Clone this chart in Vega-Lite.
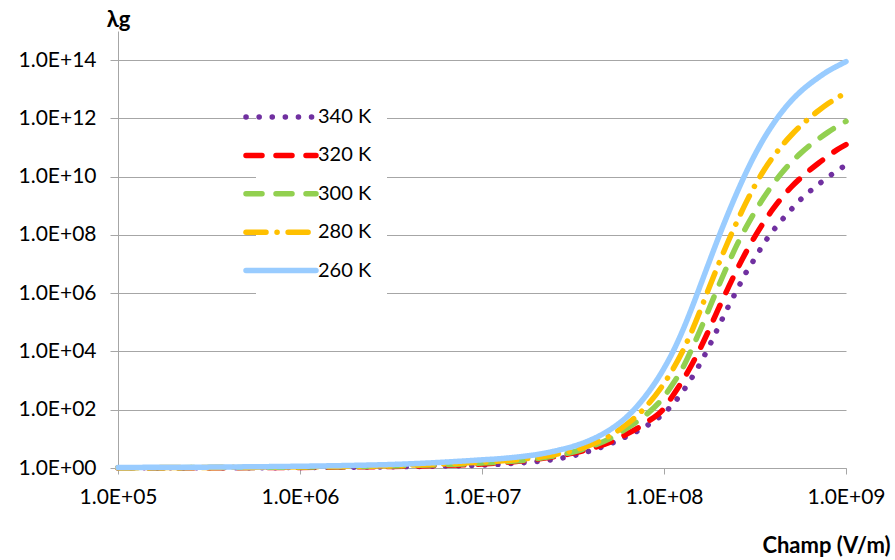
{
  "$schema": "https://vega.github.io/schema/vega-lite/v6.json",
  "width": 728,
  "height": 437,
  "autosize": "none",
  "padding": {"left": 118, "top": 31, "right": 49, "bottom": 92},
  "background": "white",
  "config": {"view": {"stroke": null}, "font": "Lato"},
  "data": {
    "values": [
      {"E": 1e5, "340 K": 1.009, "320 K": 1.012, "300 K": 1.023, "280 K": 1.023, "260 K": 1.047},
      {"E": 3.162e5, "340 K": 1.019, "320 K": 1.023, "300 K": 1.035, "280 K": 1.047, "260 K": 1.072},
      {"E": 1e6, "340 K": 1.035, "320 K": 1.047, "300 K": 1.072, "280 K": 1.096, "260 K": 1.148},
      {"E": 1.995e6, "340 K": 1.072, "320 K": 1.096, "300 K": 1.122, "280 K": 1.148, "260 K": 1.23},
      {"E": 3.162e6, "340 K": 1.096, "320 K": 1.122, "300 K": 1.175, "280 K": 1.202, "260 K": 1.318},
      {"E": 5.012e6, "340 K": 1.148, "320 K": 1.202, "300 K": 1.259, "280 K": 1.318, "260 K": 1.479},
      {"E": 7.943e6, "340 K": 1.202, "320 K": 1.288, "300 K": 1.38, "280 K": 1.479, "260 K": 1.738},
      {"E": 1e7, "340 K": 1.259, "320 K": 1.38, "300 K": 1.479, "280 K": 1.585, "260 K": 1.905},
      {"E": 1.259e7, "340 K": 1.349, "320 K": 1.514, "300 K": 1.585, "280 K": 1.738, "260 K": 2.089},
      {"E": 1.585e7, "340 K": 1.479, "320 K": 1.698, "300 K": 1.778, "280 K": 1.95, "260 K": 2.399},
      {"E": 1.995e7, "340 K": 1.66, "320 K": 1.995, "300 K": 2.089, "280 K": 2.291, "260 K": 2.884},
      {"E": 2.512e7, "340 K": 1.995, "320 K": 2.455, "300 K": 2.63, "280 K": 2.884, "260 K": 3.802},
      {"E": 3.162e7, "340 K": 2.63, "320 K": 3.236, "300 K": 3.548, "280 K": 3.981, "260 K": 5.495},
      {"E": 3.981e7, "340 K": 3.981, "320 K": 4.677, "300 K": 5.495, "280 K": 6.31, "260 K": 9.333},
      {"E": 5.012e7, "340 K": 6.607, "320 K": 7.586, "300 K": 10, "280 K": 12.59, "260 K": 19.95},
      {"E": 6.31e7, "340 K": 12.59, "320 K": 15.14, "300 K": 23.99, "280 K": 33.11, "260 K": 60.26},
      {"E": 7.943e7, "340 K": 26.92, "320 K": 35.48, "300 K": 66.07, "280 K": 125.9, "260 K": 302},
      {"E": 1e8, "340 K": 75.86, "320 K": 112.2, "300 K": 281.8, "280 K": 794.3, "260 K": 2630},
      {"E": 1.122e8, "340 K": 158.5, "320 K": 316.2, "300 K": 794.3, "280 K": 2512, "260 K": 1e4},
      {"E": 1.259e8, "340 K": 398.1, "320 K": 955, "300 K": 2512, "280 K": 9550, "260 K": 4.786e4},
      {"E": 1.413e8, "340 K": 1175, "320 K": 3311, "300 K": 1.122e4, "280 K": 4.571e4, "260 K": 2.818e5},
      {"E": 1.585e8, "340 K": 3981, "320 K": 1.318e4, "300 K": 5.623e4, "280 K": 2.63e5, "260 K": 1.862e6},
      {"E": 1.778e8, "340 K": 1.585e4, "320 K": 6.026e4, "300 K": 3.162e5, "280 K": 1.66e6, "260 K": 1.259e7},
      {"E": 1.995e8, "340 K": 7.079e4, "320 K": 3.02e5, "300 K": 1.778e6, "280 K": 1e7, "260 K": 8.318e7},
      {"E": 2.239e8, "340 K": 3.162e5, "320 K": 1.413e6, "300 K": 9.333e6, "280 K": 5.495e7, "260 K": 5.012e8},
      {"E": 2.512e8, "340 K": 1.259e6, "320 K": 6.31e6, "300 K": 4.467e7, "280 K": 2.754e8, "260 K": 2.754e9},
      {"E": 2.818e8, "340 K": 5.012e6, "320 K": 2.512e7, "300 K": 1.778e8, "280 K": 1.259e9, "260 K": 1.349e10},
      {"E": 3.162e8, "340 K": 1.585e7, "320 K": 8.913e7, "300 K": 6.31e8, "280 K": 5.012e9, "260 K": 5.754e10},
      {"E": 3.548e8, "340 K": 5.248e7, "320 K": 2.818e8, "300 K": 1.995e9, "280 K": 1.698e10, "260 K": 2.089e11},
      {"E": 3.981e8, "340 K": 1.413e8, "320 K": 7.943e8, "300 K": 5.623e9, "280 K": 4.786e10, "260 K": 6.457e11},
      {"E": 4.467e8, "340 K": 3.388e8, "320 K": 1.995e9, "300 K": 1.413e10, "280 K": 1.202e11, "260 K": 1.738e12},
      {"E": 5.012e8, "340 K": 7.586e8, "320 K": 4.467e9, "300 K": 3.162e10, "280 K": 2.692e11, "260 K": 4.074e12},
      {"E": 5.623e8, "340 K": 1.622e9, "320 K": 8.913e9, "300 K": 6.31e10, "280 K": 5.495e11, "260 K": 8.318e12},
      {"E": 6.31e8, "340 K": 3.09e9, "320 K": 1.66e10, "300 K": 1.175e11, "280 K": 1.047e12, "260 K": 1.514e13},
      {"E": 7.079e8, "340 K": 5.495e9, "320 K": 2.951e10, "300 K": 1.995e11, "280 K": 1.862e12, "260 K": 2.57e13},
      {"E": 7.943e8, "340 K": 9.55e9, "320 K": 5.012e10, "300 K": 3.311e11, "280 K": 3.162e12, "260 K": 4.169e13},
      {"E": 8.913e8, "340 K": 1.585e10, "320 K": 8.318e10, "300 K": 5.248e11, "280 K": 5.012e12, "260 K": 6.166e13},
      {"E": 1e9, "340 K": 2.512e10, "320 K": 1.259e11, "300 K": 7.943e11, "280 K": 7.586e12, "260 K": 8.913e13}
    ]
  },
  "transform": [{"fold": ["340 K", "320 K", "300 K", "280 K", "260 K"], "as": ["T", "lambda"]}],
  "mark": {"type": "line", "strokeCap": "round", "strokeJoin": "round", "interpolate": "monotone"},
  "encoding": {
    "x": {
      "field": "E", "type": "quantitative",
      "scale": {"type": "log", "domain": [1e5, 1e9], "nice": false},
      "axis": {
        "values": [1e5, 1e6, 1e7, 1e8, 1e9],
        "grid": false,
        "labelExpr": "'1.0E+' + format(round(log(datum.value)/LN10), '02d')",
        "domainColor": "#A6A6A6", "tickColor": "#A6A6A6", "tickSize": 6,
        "labelFontSize": 21, "labelColor": "#000000", "labelPadding": 12, "labelFlush": false,
        "title": "Champ (V/m)", "titleFontSize": 22, "titleFontWeight": "bold", "titleColor": "#000000",
        "titleX": 772, "titleY": 77, "titleAlign": "right", "titleBaseline": "middle"
      }
    },
    "y": {
      "field": "lambda", "type": "quantitative",
      "scale": {"type": "log", "domain": [1, 1e15], "nice": false},
      "axis": {
        "values": [1, 1e2, 1e4, 1e6, 1e8, 1e10, 1e12, 1e14],
        "grid": true, "gridColor": "#A6A6A6", "gridWidth": 1,
        "labelExpr": "'1.0E+' + format(round(log(datum.value)/LN10), '02d')",
        "domainColor": "#A6A6A6", "tickColor": "#A6A6A6", "tickSize": 8,
        "labelFontSize": 21, "labelColor": "#000000", "labelPadding": 14,
        "title": "λg", "titleFontSize": 22, "titleFontWeight": "bold", "titleColor": "#000000",
        "titleAngle": 0, "titleX": 0, "titleY": -12, "titleAlign": "center", "titleBaseline": "middle"
      }
    },
    "color": {
      "field": "T", "type": "nominal", "sort": ["340 K", "320 K", "300 K", "280 K", "260 K"],
      "scale": {"domain": ["340 K", "320 K", "300 K", "280 K", "260 K"], "range": ["#7030A0", "#FF0000", "#92D050", "#FFC000", "#99CCFF"]},
      "legend": {
        "orient": "none", "legendX": 138, "legendY": 61, "title": null,
        "fillColor": "white", "padding": 15,
        "symbolType": "M-5,0H5", "symbolSize": 196,
        "labelFontSize": 20, "labelColor": "#000000", "labelOffset": 27, "rowPadding": 16.4,
        "encode": {"symbols": {"update": {"strokeCap": {"value": "round"}}}}
      }
    },
    "strokeDash": {
      "field": "T", "type": "nominal", "sort": ["340 K", "320 K", "300 K", "280 K", "260 K"],
      "scale": {"domain": ["340 K", "320 K", "300 K", "280 K", "260 K"], "range": [[0.1, 13], [16, 14], [16, 14], [20, 11, 0.1, 11], [1, 0]]}
    },
    "strokeWidth": {
      "field": "T", "type": "ordinal", "sort": ["340 K", "320 K", "300 K", "280 K", "260 K"],
      "scale": {"domain": ["340 K", "320 K", "300 K", "280 K", "260 K"], "range": [5.5, 5.5, 5.5, 5.5, 7]}
    }
  }
}
